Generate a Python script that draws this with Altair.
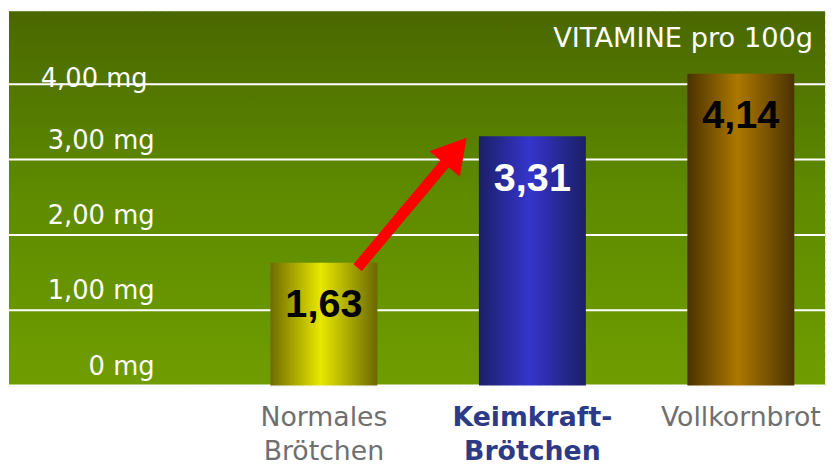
import altair as alt
import pandas as pd

# ---- data ----
categories = ["Normales|Brötchen", "Keimkraft-|Brötchen", "Vollkornbrot"]
values = [1.63, 3.31, 4.14]
ticks = [0, 1, 2, 3, 4]
title_text = "VITAMINE pro 100g"

# ---- styles ----
W, H = 824, 378
bar_grads = [
    ["#6f6c00", "#e8e800", "#6a6800"],
    ["#1b1f66", "#3535cc", "#1b1f66"],
    ["#4a3200", "#ad7800", "#4a3200"],
]
bg_top, bg_mid, bg_bot = "#4a6700", "#5d8a00", "#6f9d00"

df = pd.DataFrame({"cat": categories, "v": values})
tick_df = pd.DataFrame({"tick": ticks})
one = pd.DataFrame({"a": [0]})

def lin_grad(cols, horizontal=True):
    stops = [alt.GradientStop(color=cols[0], offset=0),
             alt.GradientStop(color=cols[1], offset=0.47),
             alt.GradientStop(color=cols[2], offset=1)]
    if horizontal:
        return alt.Gradient(gradient="linear", stops=stops, x1=0, x2=1, y1=0, y2=0)
    return alt.Gradient(gradient="linear", stops=stops, x1=0, x2=0, y1=0, y2=1)

step = 210.5
c0, c2 = 318, 739
p_in = 1 - 108 / step
x_scale = alt.Scale(range=[c0 - step / 2, c2 + step / 2], paddingInner=p_in, paddingOuter=p_in / 2)
y_scale = alt.Scale(domain=[0, 4.97], nice=False)

x_axis = alt.Axis(
    title=None, domain=False, ticks=False, labelAngle=0,
    labelExpr="split(datum.label, '|')",
    labelFont="DejaVu Sans", labelFontSize=27, labelLineHeight=35,
    labelPadding=19, labelBaseline="top",
    labelColor={"condition": {"test": "indexof(datum.value, 'Keimkraft') >= 0", "value": "#2d3a86"}, "value": "#6f6f6f"},
    labelFontWeight={"condition": {"test": "indexof(datum.value, 'Keimkraft') >= 0", "value": "bold"}, "value": "normal"},
)
x_enc = alt.X("cat:N", sort=categories, scale=x_scale, axis=x_axis)
y_tick = alt.Y("tick:Q", scale=y_scale, axis=None)

background = alt.Chart(one).mark_rect(
    fill=lin_grad([bg_top, bg_mid, bg_bot], horizontal=False)
).encode(x=alt.value(0), x2=alt.value(W), y=alt.value(0), y2=alt.value(H))

grid = alt.Chart(tick_df).mark_rule(color="white", strokeWidth=2).encode(y=y_tick)

tick_lab = "datum.tick == 0 ? '0 mg' : replace(format(datum.tick, '.2f'), '.', ',') + ' mg'"
ylab_low = alt.Chart(tick_df).transform_filter(alt.datum.tick < 4).transform_calculate(
    lab=tick_lab
).mark_text(font="DejaVu Sans", fontSize=26, color="white", align="right", baseline="middle", dy=-19).encode(
    x=alt.value(147), y=y_tick, text="lab:N"
)
ylab_top = alt.Chart(tick_df).transform_filter(alt.datum.tick == 4).transform_calculate(
    lab=tick_lab
).mark_text(font="DejaVu Sans", fontSize=26, color="white", align="right", baseline="middle", dy=-5).encode(
    x=alt.value(140), y=y_tick, text="lab:N"
)

bars = []
for c, g in zip(categories, bar_grads):
    bars.append(
        alt.Chart(df).transform_filter(alt.datum.cat == c).mark_bar(fill=lin_grad(g)).encode(
            x=x_enc, y=alt.Y("v:Q", scale=y_scale, axis=None)
        )
    )

labels = alt.Chart(df).transform_calculate(
    lab="replace(format(datum.v, '.2f'), '.', ',')"
).mark_text(font="Liberation Sans", fontWeight="bold", fontSize=40, baseline="middle", dy=43).encode(
    x=x_enc, y=alt.Y("v:Q", scale=y_scale, axis=None), text="lab:N",
    color=alt.condition(alt.datum.cat == categories[1], alt.value("white"), alt.value("black")),
)

title = alt.Chart(one).mark_text(
    text=title_text, font="DejaVu Sans", fontSize=27.5, color="white", align="right", baseline="middle"
).encode(x=alt.value(812), y=alt.value(28))

arrow_line = alt.Chart(one).mark_rule(color="#ff0000", strokeWidth=11).encode(
    x=alt.value(352), y=alt.value(259), x2=alt.value(451), y2=alt.value(141)
)
arrow_head = alt.Chart(one).mark_point(
    shape="triangle-up", size=1600, filled=True, color="#ff0000", opacity=1, angle=40
).encode(x=alt.value(451), y=alt.value(141))

chart = alt.layer(background, grid, *bars, labels, ylab_low, ylab_top, title, arrow_line, arrow_head).properties(
    width=W, height=H, padding={"left": 0, "top": 1, "right": 0, "bottom": 0}
).configure_view(stroke="#dde5cc", strokeDash=[5, 3], strokeWidth=1)

chart.save("out.html", embed_options={"renderer": "svg", "actions": False})
